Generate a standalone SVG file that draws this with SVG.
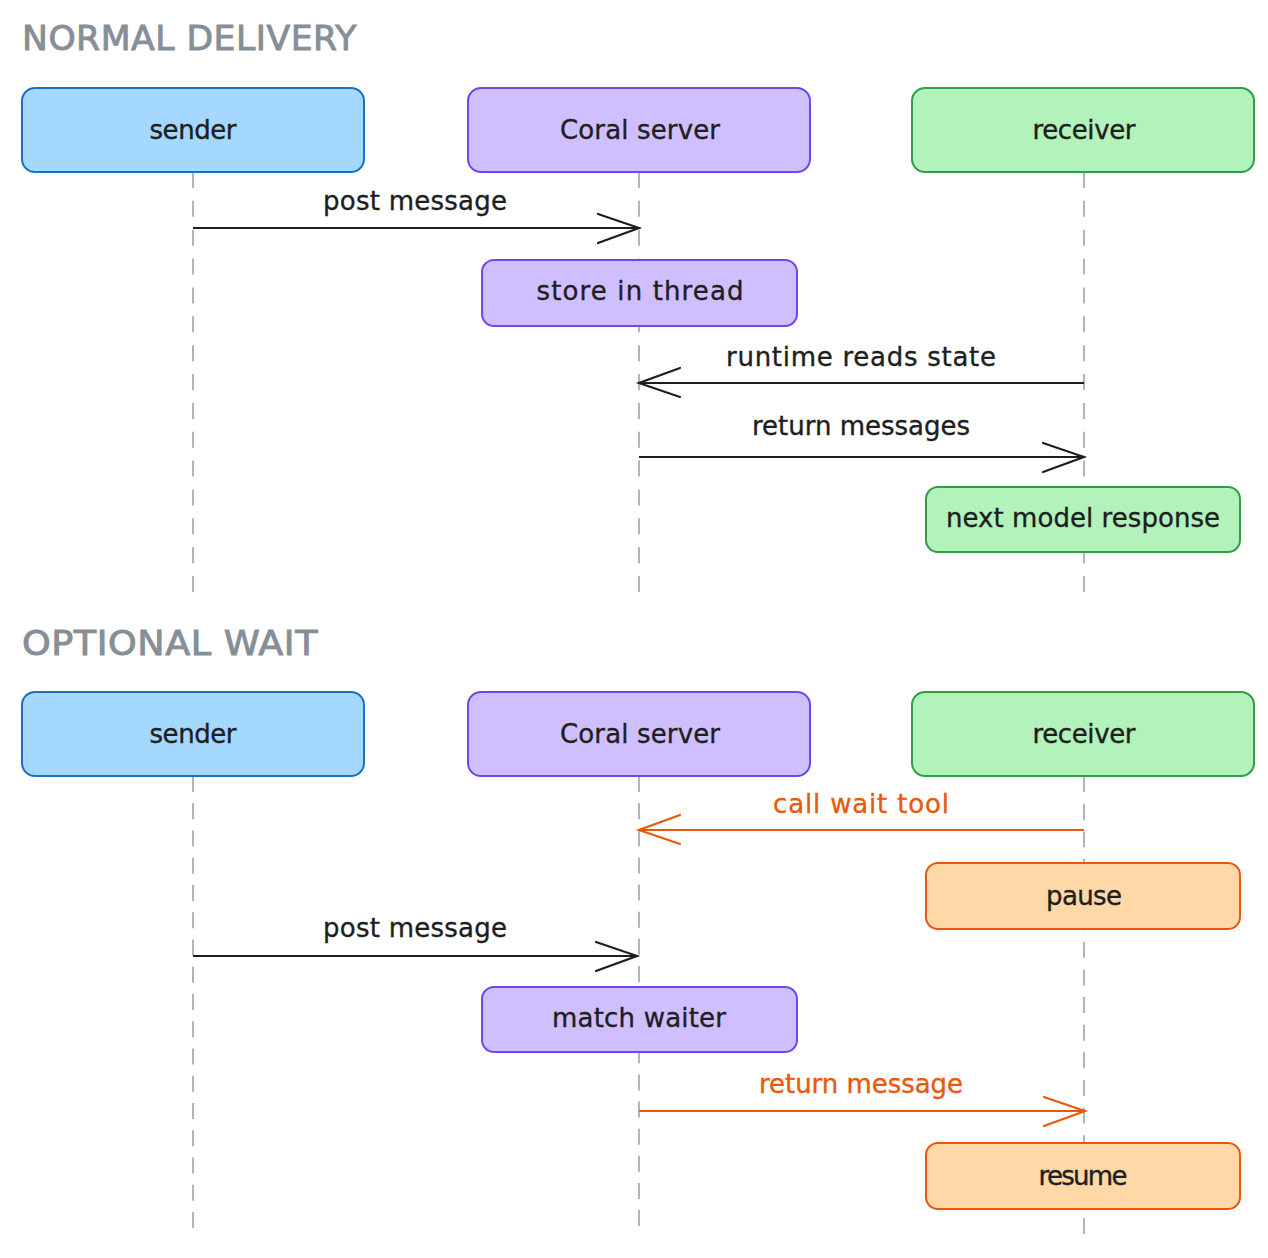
<svg xmlns="http://www.w3.org/2000/svg" width="1268" height="1258" viewBox="0 0 1268 1258">
<defs>
<style>
.title{font-family:"DejaVu Sans",sans-serif;font-size:34px;fill:#868e96;stroke:#868e96;stroke-width:0.9px;letter-spacing:0.5px}
.lbl{font-family:"DejaVu Sans",sans-serif;font-size:26px;fill:#1e1e1e;stroke:#1e1e1e;stroke-width:0.35px;text-anchor:middle}
.org{fill:#e8590c;stroke:#e8590c}
.life{stroke:#adb5bd;stroke-width:2;fill:none}
.blue{fill:#a5d8ff;stroke:#1971c2;stroke-width:2}
.violet{fill:#d0bfff;stroke:#7048e8;stroke-width:2}
.green{fill:#b2f2bb;stroke:#2f9e44;stroke-width:2}
.orange{fill:#ffd8a8;stroke:#e8590c;stroke-width:2}
.msg{stroke:#1e1e1e;stroke-width:2.2;fill:none}
.msgo{stroke:#e8590c;stroke-width:2.2;fill:none}
</style>
<marker id="ah" viewBox="-44 -18 48 36" refX="0" refY="0" markerWidth="48" markerHeight="36" markerUnits="userSpaceOnUse" orient="auto">
<path d="M-41,-14 L0,0 L-41,15" fill="none" stroke="#1e1e1e" stroke-width="2.2" stroke-linecap="round"/>
</marker>
<marker id="aho" viewBox="-44 -18 48 36" refX="0" refY="0" markerWidth="48" markerHeight="36" markerUnits="userSpaceOnUse" orient="auto">
<path d="M-41,-14 L0,0 L-41,15" fill="none" stroke="#e8590c" stroke-width="2.2" stroke-linecap="round"/>
</marker>
</defs>
<rect width="1268" height="1258" fill="#ffffff"/>

<text class="title" x="22" y="50" textLength="335" lengthAdjust="spacingAndGlyphs">NORMAL DELIVERY</text>
<text class="title" x="22" y="655" textLength="296" lengthAdjust="spacingAndGlyphs">OPTIONAL WAIT</text>

<g id="lifelines">
<line class="life" x1="193" y1="172" x2="193" y2="592" stroke-dasharray="16 12.86"/>
<line class="life" x1="639" y1="172" x2="639" y2="592" stroke-dasharray="16 12.86"/>
<line class="life" x1="1084" y1="172" x2="1084" y2="592" stroke-dasharray="16 12.86"/>
<line class="life" x1="193" y1="776" x2="193" y2="1228" stroke-dasharray="16 11.25"/>
<line class="life" x1="639" y1="776" x2="639" y2="1226" stroke-dasharray="16 11.125"/>
<line class="life" x1="1084" y1="776" x2="1084" y2="1234" stroke-dasharray="16 11.625"/>
</g>

<g id="connectors">
<g id="c1"><line class="msg" x1="193" y1="228" x2="639" y2="228" marker-end="url(#ah)"/><text class="lbl" x="415" y="210" textLength="184">post message</text></g>
<g id="c2"><line class="msg" x1="1084" y1="383" x2="639" y2="383" marker-end="url(#ah)"/><text class="lbl" x="861" y="366" textLength="270">runtime reads state</text></g>
<g id="c3"><line class="msg" x1="639" y1="457" x2="1084" y2="457" marker-end="url(#ah)"/><text class="lbl" x="861" y="435" textLength="218">return messages</text></g>
<g id="c4"><line class="msgo" x1="1084" y1="830" x2="639" y2="830" marker-end="url(#aho)"/><text class="lbl org" x="861" y="813" textLength="176">call wait tool</text></g>
<g id="c5"><line class="msg" x1="193" y1="956" x2="637" y2="956" marker-end="url(#ah)"/><text class="lbl" x="415" y="937" textLength="184">post message</text></g>
<g id="c6"><line class="msgo" x1="639" y1="1111" x2="1085" y2="1111" marker-end="url(#aho)"/><text class="lbl org" x="861" y="1093" textLength="204">return message</text></g>
</g>

<g id="n-sender1"><rect class="blue" x="22" y="88" width="342" height="84" rx="13"/><text class="lbl" x="193" y="139" textLength="87">sender</text></g>
<g id="n-server1"><rect class="violet" x="468" y="88" width="342" height="84" rx="13"/><text class="lbl" x="640" y="139" textLength="160">Coral server</text></g>
<g id="n-receiver1"><rect class="green" x="912" y="88" width="342" height="84" rx="13"/><text class="lbl" x="1084" y="139" textLength="103">receiver</text></g>
<g id="n-store"><rect class="violet" x="482" y="260" width="315" height="66" rx="12"/><text class="lbl" x="640" y="300" textLength="207">store in thread</text></g>
<g id="n-next"><rect class="green" x="926" y="487" width="314" height="65" rx="12"/><text class="lbl" x="1083" y="527" textLength="274">next model response</text></g>

<g id="n-sender2"><rect class="blue" x="22" y="692" width="342" height="84" rx="13"/><text class="lbl" x="193" y="743" textLength="87">sender</text></g>
<g id="n-server2"><rect class="violet" x="468" y="692" width="342" height="84" rx="13"/><text class="lbl" x="640" y="743" textLength="160">Coral server</text></g>
<g id="n-receiver2"><rect class="green" x="912" y="692" width="342" height="84" rx="13"/><text class="lbl" x="1084" y="743" textLength="103">receiver</text></g>
<g id="n-pause"><rect class="orange" x="926" y="863" width="314" height="66" rx="12"/><text class="lbl" x="1084" y="905" textLength="76">pause</text></g>
<g id="n-match"><rect class="violet" x="482" y="987" width="315" height="65" rx="12"/><text class="lbl" x="639" y="1027" textLength="174">match waiter</text></g>
<g id="n-resume"><rect class="orange" x="926" y="1143" width="314" height="66" rx="12"/><text class="lbl" x="1083" y="1185" textLength="89">resume</text></g>
</svg>
